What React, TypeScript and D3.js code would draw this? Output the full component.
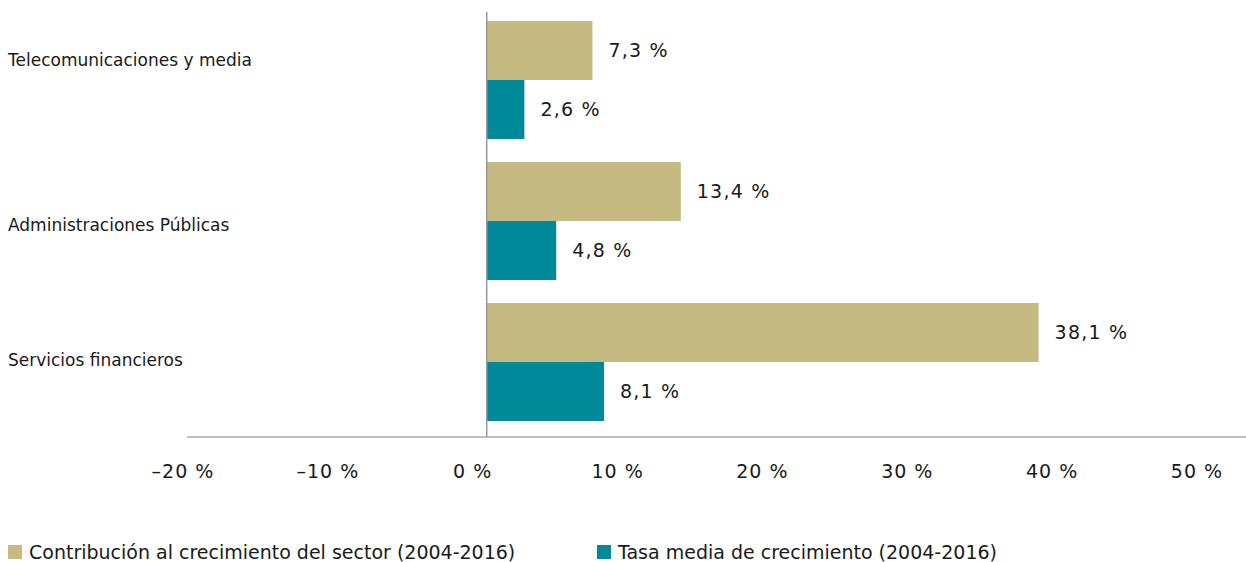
import React from "react";
import * as d3 from "d3";

const categories = ["Telecomunicaciones y media", "Administraciones Públicas", "Servicios financieros"];
const contribucion = [7.3, 13.4, 38.1];
const tasaMedia = [2.6, 4.8, 8.1];
const seriesNames = ["Contribución al crecimiento del sector (2004-2016)", "Tasa media de crecimiento (2004-2016)"];
const xTicks = [-20, -10, 0, 10, 20, 30, 40, 50];

const W = 1246;
const H = 562;
const COLORS = ["#C5BB82", "#008A99"];
const FONT = "'DejaVu Sans', Roboto, sans-serif";

const fmt = (v: number) => (v < 0 ? "–" : "") + String(Math.abs(v)).replace(".", ",") + " %";

export default function App() {
  const x = d3.scaleLinear().domain([-20, 50]).range([197, 1211]);
  const y = d3.scaleBand<string>().domain(categories).range([21, 421]).paddingInner(0.163).paddingOuter(0);
  const inner = d3.scaleBand<string>().domain(["a", "b"]).range([0, y.bandwidth()]);
  const series = [contribucion, tasaMedia];
  const axisY = 437;
  const labelShift = [-20, 4, -2];
  return (
    <svg width={W} height={H} style={{ position: "absolute", left: 0, top: 0, background: "#fff" }} fontFamily={FONT}>
      {categories.map((c, i) => (
        <g key={c}>
          {series.map((s, k) => (
            <g key={k}>
              <rect
                x={x(0)}
                y={(y(c) as number) + (inner(k ? "b" : "a") as number)}
                width={x(s[i]) - x(0)}
                height={inner.bandwidth()}
                fill={COLORS[k]}
              />
              <text
                x={x(s[i]) + 16}
                y={(y(c) as number) + (inner(k ? "b" : "a") as number) + inner.bandwidth() / 2}
                dy="0.35em"
                fontSize={19}
                letterSpacing={1.2}
                fill="#1a1a1a"
              >
                {fmt(s[i])}
              </text>
            </g>
          ))}
          <text x={8} y={(y(c) as number) + y.bandwidth() / 2 + labelShift[i]} dy="0.35em" fontSize={17} fill="#1a1a1a">
            {c}
          </text>
        </g>
      ))}
      <line x1={x(0)} x2={x(0)} y1={12} y2={axisY} stroke="#999" strokeWidth={1.5} />
      <line x1={187} x2={W} y1={axisY} y2={axisY} stroke="#aaa" strokeWidth={1.5} />
      {xTicks.map((t) => (
        <text key={t} x={x(t) - 14} y={478} textAnchor="middle" fontSize={19} letterSpacing={1} fill="#1a1a1a">
          {fmt(t)}
        </text>
      ))}
      {seriesNames.map((n, k) => (
        <g key={n} transform={`translate(${k === 0 ? 8 : 597},545)`}>
          <rect x={0} y={0} width={14} height={14} fill={COLORS[k]} />
          <text x={21} y={13.5} fontSize={19} fill="#1a1a1a">
            {n}
          </text>
        </g>
      ))}
    </svg>
  );
}
